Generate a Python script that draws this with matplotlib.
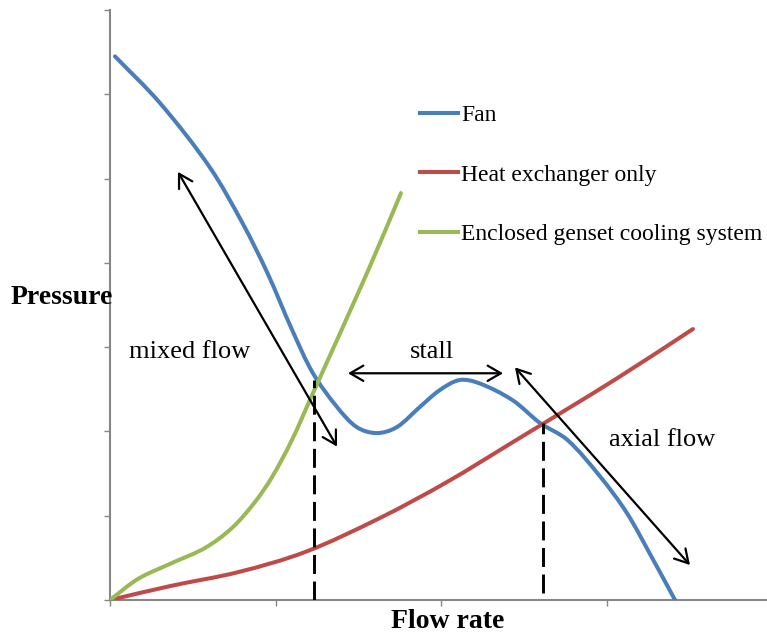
import matplotlib
matplotlib.use("Agg")
import math
import matplotlib.pyplot as plt
from matplotlib.lines import Line2D
from matplotlib.path import Path
from matplotlib.patches import PathPatch

# ---- data (arbitrary units) ----
fan_x = [0.03, 0.30, 0.60, 0.80, 0.95, 1.10, 1.225, 1.37, 1.49, 1.61, 1.73,
         1.87, 1.99, 2.11, 2.23, 2.43, 2.595, 2.76, 2.96, 3.12, 3.28, 3.41]
fan_y = [6.45, 5.90, 5.14, 4.47, 3.88, 3.20, 2.69, 2.29, 2.05, 1.98, 2.05,
         2.29, 2.49, 2.61, 2.57, 2.37, 2.10, 1.90, 1.46, 1.03, 0.47, 0.0]

hx_x = [0.0, 0.374, 0.772, 1.177, 1.629, 2.034, 2.432, 3.06, 3.518]
hx_y = [0.0, 0.170, 0.330, 0.569, 0.973, 1.400, 1.874, 2.63, 3.215]

gen_x = [0.0, 0.169, 0.374, 0.573, 0.736, 0.875, 0.978, 1.098, 1.225, 1.551, 1.756]
gen_y = [0.0, 0.250, 0.439, 0.617, 0.854, 1.163, 1.459, 1.898, 2.456, 3.879, 4.828]

# operating-point markers (x, y_bottom, y_top)
dash_x = [1.231, 2.613]
dash_y0 = [0.0, 0.08]
dash_y1 = [2.61, 2.10]

# double-headed arrows: (x_start, y_start, x_end, y_end)
arrow_mixed = [0.41, 5.08, 1.37, 1.82]
arrow_stall = [1.436, 2.69, 2.372, 2.69]
arrow_axial = [2.444, 2.76, 3.50, 0.415]

labels = ["Fan", "Heat exchanger only", "Enclosed genset cooling system"]
colors = ["#4A7EBB", "#BE4B48", "#98B954"]

serif = ["Liberation Serif", "DejaVu Serif"]

W, H = 767, 637
XLIM = (0, 3.965)
YLIM = (0, 7)
SX = (767 - 110) / (XLIM[1] - XLIM[0])   # px per x unit (for chord lengths)
SY = (600 - 10) / (YLIM[1] - YLIM[0])    # px per y unit


def smooth_path(xs, ys):
    """Smoothed line (chord-length Catmull-Rom) through the points as Bezier segments."""
    pts = list(zip(xs, ys))
    n = len(pts)

    def dist(a, b):
        return math.hypot((b[0] - a[0]) * SX, (b[1] - a[1]) * SY)

    seg = [dist(pts[i], pts[i + 1]) for i in range(n - 1)]
    tang = []
    for i in range(n):
        if i == 0:
            d = seg[0]
            tang.append(((pts[1][0] - pts[0][0]) / d, (pts[1][1] - pts[0][1]) / d))
        elif i == n - 1:
            d = seg[-1]
            tang.append(((pts[-1][0] - pts[-2][0]) / d, (pts[-1][1] - pts[-2][1]) / d))
        else:
            d = seg[i - 1] + seg[i]
            tang.append(((pts[i + 1][0] - pts[i - 1][0]) / d,
                         (pts[i + 1][1] - pts[i - 1][1]) / d))
    verts = [pts[0]]
    codes = [Path.MOVETO]
    for i in range(n - 1):
        L = seg[i] / 3.0
        p1, p2 = pts[i], pts[i + 1]
        c1 = (p1[0] + tang[i][0] * L, p1[1] + tang[i][1] * L)
        c2 = (p2[0] - tang[i + 1][0] * L, p2[1] - tang[i + 1][1] * L)
        verts += [c1, c2, p2]
        codes += [Path.CURVE4] * 3
    return Path(verts, codes)


fig = plt.figure(figsize=(7.67, 6.37), dpi=100)
ax = fig.add_axes([110 / W, 37 / H, (767 - 110) / W, (600 - 10) / H])
ax.set_xlim(*XLIM)
ax.set_ylim(*YLIM)
ax.set_xticks([0, 1, 2, 3])
ax.set_yticks(range(0, 8))
ax.set_xticklabels([])
ax.set_yticklabels([])
ax.tick_params(direction="out", length=4, width=1, color="#868686")
for s in ["top", "right"]:
    ax.spines[s].set_visible(False)
for s in ["left", "bottom"]:
    ax.spines[s].set_color("#868686")
    ax.spines[s].set_linewidth(1.5)
ax.patch.set_alpha(0)

for xs, ys, c in [(fan_x, fan_y, colors[0]), (hx_x, hx_y, colors[1]), (gen_x, gen_y, colors[2])]:
    ax.add_patch(PathPatch(smooth_path(xs, ys), facecolor="none", edgecolor=c,
                           lw=2.9, capstyle="round", zorder=3))

for x, y0, y1 in zip(dash_x, dash_y0, dash_y1):
    ax.plot([x, x], [y0, y1], color="black", lw=2.1, dashes=(6.5, 2.6), zorder=4)

for a in [arrow_mixed, arrow_stall, arrow_axial]:
    ax.annotate("", xy=(a[2], a[3]), xytext=(a[0], a[1]),
                arrowprops=dict(arrowstyle="<->,head_length=0.95,head_width=0.55",
                                color="black", lw=1.6, shrinkA=0, shrinkB=0),
                zorder=5)

ax.text(0.483, 2.94, "mixed flow", fontsize=19, family=serif, ha="center", va="center")
ax.text(1.943, 2.94, "stall", fontsize=19, family=serif, ha="center", va="center")
ax.text(3.33, 1.90, "axial flow", fontsize=19, family=serif, ha="center", va="center")

fig.text(62 / W, 1 - 298 / H, "Pressure", fontsize=20, fontweight="bold",
         family=serif, ha="center", va="center")
fig.text(448 / W, 1 - 622 / H, "Flow rate", fontsize=20, fontweight="bold",
         family=serif, ha="center", va="center")

handles = [Line2D([], [], color=c, lw=2.9) for c in colors]
leg = ax.legend(handles, labels, loc="center left",
                bbox_to_anchor=(420 / W, 1 - 175 / H), bbox_transform=fig.transFigure,
                frameon=False, borderpad=0, borderaxespad=0, handlelength=1.6,
                handletextpad=0.15, labelspacing=1.6,
                prop={"family": serif, "size": 17})

fig.savefig("out.png", dpi=100)
